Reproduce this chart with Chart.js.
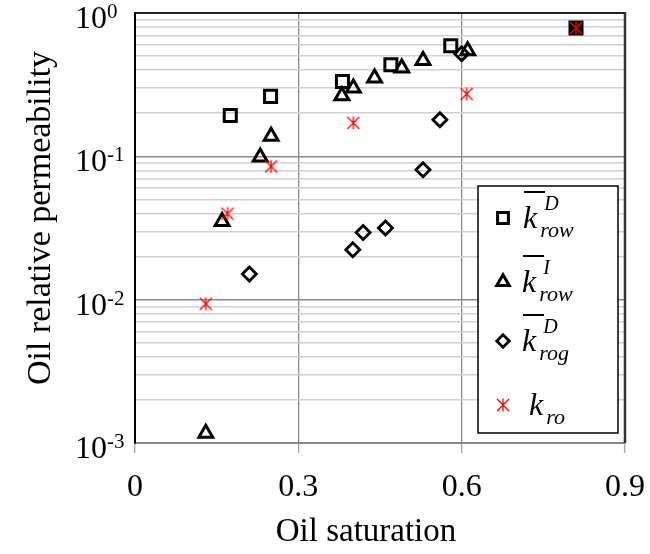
<!DOCTYPE html>
<html>
<head>
<meta charset="utf-8">
<script src="https://cdn.jsdelivr.net/npm/chart.js@4.4.0/dist/chart.umd.min.js"></script>
<style>
html,body{margin:0;padding:0;background:#fff;}
#wrap{width:650px;height:554px;}
</style>
</head>
<body>
<div id="wrap"><canvas id="c" width="650" height="554"></canvas></div>
<script>
// ---- data ----
const sqX  = [0.175, 0.249, 0.381, 0.470, 0.580, 0.810];
const sqY  = [0.193, 0.262, 0.333, 0.436, 0.591, 0.786];
const triX = [0.130, 0.160, 0.230, 0.250, 0.380, 0.401, 0.440, 0.490, 0.529, 0.611];
const triY = [0.00117, 0.0351, 0.0989, 0.138, 0.265, 0.300, 0.352, 0.413, 0.467, 0.546];
const diaX = [0.210, 0.400, 0.419, 0.460, 0.529, 0.560, 0.600];
const diaY = [0.0151, 0.0223, 0.0294, 0.0316, 0.0806, 0.180, 0.520];
const starX = [0.130, 0.170, 0.250, 0.401, 0.609, 0.810];
const starY = [0.00936, 0.0398, 0.0851, 0.171, 0.272, 0.786];

// ---- ticks / labels ----
const xTickVals = [0, 0.3, 0.6, 0.9];
const xTickLabels = ['0', '0.3', '0.6', '0.9'];
const yDecades = [1, 0.1, 0.01, 0.001];
const yDecadeExp = ['0', '-1', '-2', '-3'];
const yMinorMult = [1, 2, 3, 4, 5, 6, 7, 8, 9];
const xTitle = 'Oil saturation';
const yTitle = 'Oil relative permeability';

// legend label parts
const legendBase = ['k', 'k', 'k', 'k'];
const legendSup  = ['D', 'I', 'D', ''];
const legendSub  = ['row', 'row', 'rog', 'ro'];
const legendBar  = [true, true, true, false];

const pts = (xs, ys) => xs.map((x, i) => ({x: x, y: ys[i]}));

// y tick values: 1..9 x each decade
const yTickVals = [];
yDecades.slice(1).forEach(d => yMinorMult.forEach(m => yTickVals.push(+(d * m).toPrecision(3))));
yTickVals.push(1);

// asterisk marker
function makeStar() {
  const c = document.createElement('canvas');
  c.width = 16; c.height = 16;
  const g = c.getContext('2d');
  g.strokeStyle = '#ff0000';
  g.lineWidth = 1.3;
  g.beginPath();
  g.moveTo(2, 2); g.lineTo(14, 14);
  g.moveTo(2, 14); g.lineTo(14, 2);
  g.moveTo(8, 1.5); g.lineTo(8, 14.5);
  g.stroke();
  return c;
}
const starImg = makeStar();

const SERIF = '"Liberation Serif", "Times New Roman", serif';

const markerStyles = [
  {pointStyle: 'rect', radius: 8.5, borderWidth: 3},
  {pointStyle: 'triangle', radius: 8, borderWidth: 3},
  {pointStyle: 'rectRot', radius: 7, borderWidth: 2.8},
  {pointStyle: starImg, radius: 8, borderWidth: 1}
];

const decor = {
  id: 'decor',
  afterDraw(chart) {
    const ctx = chart.ctx;
    const a = chart.chartArea;
    const ys = chart.scales.y;
    ctx.save();
    // top & right frame
    ctx.strokeStyle = '#222';
    ctx.lineWidth = 2;
    ctx.beginPath();
    ctx.moveTo(a.left, a.top); ctx.lineTo(a.right, a.top);
    ctx.stroke();
    ctx.strokeStyle = '#333';
    ctx.lineWidth = 2.5;
    ctx.beginPath();
    ctx.moveTo(a.right, a.top - 1); ctx.lineTo(a.right, a.bottom);
    ctx.stroke();

    // y tick labels with superscripts
    ctx.fillStyle = '#000';
    ctx.textBaseline = 'alphabetic';
    yDecades.forEach((v, i) => {
      const py = ys.getPixelForValue(v);
      ctx.font = '32px ' + SERIF;
      ctx.textAlign = 'right';
      ctx.fillText('10', 107, py + 15);
      ctx.font = '21px ' + SERIF;
      ctx.textAlign = 'left';
      ctx.fillText(yDecadeExp[i], 107, py + 5);
    });

    // axis titles
    ctx.font = '33px ' + SERIF;
    ctx.textAlign = 'center';
    ctx.fillText(xTitle, 366, 541);
    ctx.save();
    ctx.translate(50, 218);
    ctx.rotate(-Math.PI / 2);
    ctx.font = '34px ' + SERIF;
    ctx.fillText(yTitle, 0, 0);
    ctx.restore();

    // legend
    const lx = 478, ly = 186, lw = 140, lh = 247;
    ctx.fillStyle = '#fff';
    ctx.fillRect(lx, ly, lw, lh);
    ctx.strokeStyle = '#000';
    ctx.lineWidth = 1.5;
    ctx.strokeRect(lx, ly, lw, lh);
    const rowY = [218, 282, 341, 405];
    const kx = [523, 522, 522, 529];
    rowY.forEach((y, i) => {
      const ms = markerStyles[i];
      if (i === 3) {
        ctx.drawImage(starImg, 503 - 8, y - 8);
      } else {
        ctx.strokeStyle = '#000';
        ctx.fillStyle = 'rgba(0,0,0,0)';
        ctx.lineWidth = ms.borderWidth;
        Chart.helpers.drawPoint(ctx, {pointStyle: ms.pointStyle, rotation: 0, radius: ms.radius * 0.9, borderWidth: ms.borderWidth}, 503, y);
      }
      ctx.fillStyle = '#000';
      ctx.textAlign = 'left';
      const base = y + 10;
      ctx.font = 'italic 32px ' + SERIF;
      ctx.fillText(legendBase[i], kx[i], base);
      const kw = ctx.measureText(legendBase[i]).width;
      if (legendBar[i]) {
        ctx.fillRect(kx[i] + 1, base - 37, 21, 2);
      }
      if (legendSup[i]) {
        ctx.font = 'italic 20px ' + SERIF;
        ctx.fillText(legendSup[i], kx[i] + kw + 7, base - 18);
      }
      ctx.font = 'italic 22px ' + SERIF;
      ctx.fillText(legendSub[i], kx[i] + kw + 3, base + 9);
    });
    ctx.restore();
  }
};

new Chart(document.getElementById('c'), {
  type: 'scatter',
  data: {
    datasets: [
      {
        label: 'k_ro', data: pts(starX, starY), order: 0,
        pointStyle: starImg, pointRadius: 8, borderColor: '#ff0000', backgroundColor: '#ff0000'
      },
      {
        label: 'k_row^D', data: pts(sqX, sqY), order: 1,
        pointStyle: 'rect', pointRadius: 8.5, pointBorderWidth: 3, borderColor: '#000',
        pointBackgroundColor: c => c.dataIndex === sqX.length - 1 ? '#000' : 'rgba(0,0,0,0)'
      },
      {
        label: 'k_row^I', data: pts(triX, triY), order: 2,
        pointStyle: 'triangle', pointRadius: 8, pointBorderWidth: 3, borderColor: '#000',
        pointBackgroundColor: 'rgba(0,0,0,0)'
      },
      {
        label: 'k_rog^D', data: pts(diaX, diaY), order: 3,
        pointStyle: 'rectRot', pointRadius: 7, pointBorderWidth: 2.8, borderColor: '#000',
        pointBackgroundColor: 'rgba(0,0,0,0)'
      }
    ]
  },
  options: {
    responsive: false,
    animation: false,
    devicePixelRatio: 1,
    events: [],
    layout: {padding: {left: 0, right: 25, top: 13, bottom: 0}},
    plugins: {legend: {display: false}, tooltip: {enabled: false}},
    scales: {
      x: {
        type: 'linear', min: 0, max: 0.9,
        afterBuildTicks: s => { s.ticks = xTickVals.map(v => ({value: v})); },
        afterFit: s => { s.height = 111; s.paddingLeft = 0; s.paddingRight = 0; },
        ticks: {
          autoSkip: false, maxRotation: 0, padding: 15, color: '#000',
          font: {family: SERIF, size: 32},
          callback: (v, i) => xTickLabels[i]
        },
        grid: {
          color: c => (c.tick && (c.tick.value === 0 || c.tick.value === 0.9)) ? 'rgba(0,0,0,0)' : '#8a8a8a',
          lineWidth: 1.3, tickLength: 10, tickColor: '#aaaaaa', tickWidth: 1.5
        },
        border: {color: '#888', width: 2}
      },
      y: {
        type: 'logarithmic', min: 0.001, max: 1,
        afterBuildTicks: s => { s.ticks = yTickVals.map(v => ({value: v})); },
        afterFit: s => { s.width = 135; s.paddingTop = 0; s.paddingBottom = 0; },
        ticks: {display: false},
        grid: {
          drawTicks: false,
          color: c => {
            if (!c.tick) return '#d0d0d0';
            const v = c.tick.value;
            return yDecades.some(d => Math.abs(v - d) < d * 1e-6) ? '#8a8a8a' : '#d0d0d0';
          },
          lineWidth: 1.4
        },
        border: {color: '#000', width: 2}
      }
    }
  },
  plugins: [decor]
});
</script>
</body>
</html>
